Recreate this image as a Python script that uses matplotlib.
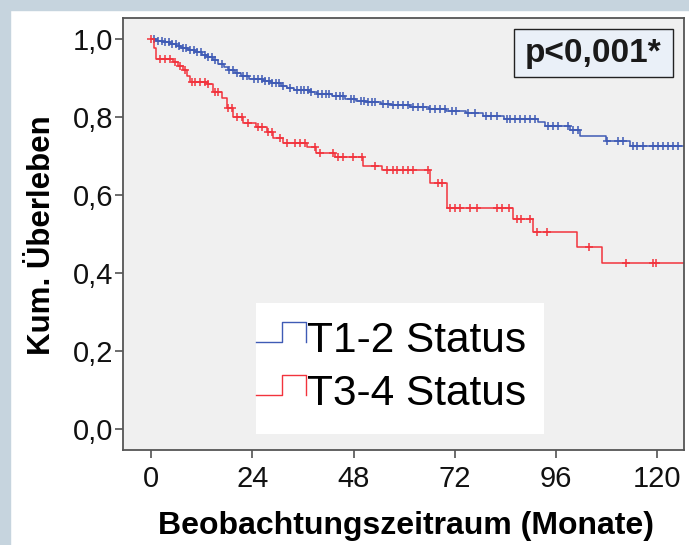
import numpy as np
import matplotlib
matplotlib.use('Agg')
import matplotlib.pyplot as plt
from matplotlib.patches import Rectangle

plt.rcParams['font.family'] = ['Liberation Sans', 'DejaVu Sans']

# Kaplan-Meier steps (time in months, cumulative survival)
t12_time = [0, 1.2, 2.8, 4.4, 6.0, 7.2, 8.8, 10.4, 12.0, 13.2, 14.8, 16.0, 17.4, 18.2,
            19.9, 21.3, 23.2, 26.6, 28.5, 30.8, 32.2, 34.0, 37.6, 39.3, 42.8, 46.0,
            48.5, 51.0, 54.5, 57.0, 61.5, 66.0, 70.0, 74.6, 78.8, 83.7, 91.8, 93.3,
            99.3, 101.7, 107.8, 113.5, 127]
t12_surv = [1.0, 0.996, 0.992, 0.988, 0.983, 0.978, 0.972, 0.967, 0.961, 0.954, 0.946,
            0.937, 0.929, 0.921, 0.913, 0.905, 0.899, 0.893, 0.887, 0.881, 0.875, 0.869,
            0.864, 0.859, 0.854, 0.848, 0.843, 0.839, 0.835, 0.831, 0.827, 0.821, 0.815,
            0.810, 0.804, 0.796, 0.787, 0.777, 0.767, 0.752, 0.739, 0.726, 0.726]
t12_cens = [0.8, 1.6, 2.5, 3.3, 4.2, 5.0, 5.9, 6.7, 7.6, 8.4, 9.3, 10.1, 11.0, 11.8, 12.7,
            13.5, 14.4, 15.2, 16.9, 18.6, 19.4, 20.3, 21.9, 22.8, 24.5, 25.3, 26.2, 27.0,
            27.9, 28.7, 29.6, 30.4, 31.3, 32.9, 34.6, 35.5, 36.3, 37.2, 38.0, 39.7, 40.5,
            41.4, 42.2, 43.9, 44.7, 45.6, 47.3, 48.1, 49.8, 50.6, 51.5, 52.3, 53.2, 55.0,
            56.2, 57.4, 58.6, 59.8, 61.0, 62.2, 63.3, 64.5, 66.1, 67.3, 68.5, 69.7, 71.3,
            72.4, 75.2, 76.8, 79.5, 80.7, 81.9, 84.3, 85.1, 86.3, 87.4, 88.6, 89.8, 91.0,
            94.1, 95.3, 96.5, 98.9, 100.1, 101.3, 108.0, 110.7, 111.9, 114.3, 115.1,
            116.7, 119.0, 120.2, 121.4, 122.6, 123.8, 125.0]

t34_time = [0, 0.6, 1.3, 5.2, 6.4, 7.7, 8.5, 9.2, 13.2, 14.8, 16.8, 17.9, 19.5, 21.9,
            25.0, 27.4, 29.0, 31.4, 36.9, 39.0, 43.5, 50.3, 54.8, 66.1, 70.1, 85.8, 90.6,
            100.9, 106.8, 127]
t34_surv = [1.0, 0.977, 0.950, 0.943, 0.932, 0.921, 0.906, 0.891, 0.885, 0.866, 0.849,
            0.823, 0.802, 0.785, 0.776, 0.763, 0.746, 0.733, 0.725, 0.708, 0.699, 0.675,
            0.665, 0.631, 0.567, 0.538, 0.507, 0.468, 0.426, 0.426]
t34_cens = [0.0, 2.1, 3.3, 4.5, 5.7, 6.9, 8.1, 9.8, 10.4, 11.6, 12.8, 13.6, 15.2, 15.9,
            18.3, 19.1, 20.3, 21.5, 23.1, 25.3, 26.2, 27.7, 28.6, 30.6, 32.2, 34.1, 35.3,
            36.5, 38.9, 40.0, 43.2, 44.4, 45.6, 47.9, 49.9, 53.1, 55.9, 57.4, 58.2, 59.8,
            61.0, 62.2, 65.7, 68.1, 68.9, 70.9, 72.0, 73.2, 75.6, 77.2, 81.9, 83.1, 84.9,
            86.7, 87.8, 89.8, 91.4, 93.8, 103.9, 112.7, 118.9, 119.7]

x_ticks = [0, 24, 48, 72, 96, 120]
y_ticks = [0.0, 0.2, 0.4, 0.6, 0.8, 1.0]
y_ticklabels = ['0,0', '0,2', '0,4', '0,6', '0,8', '1,0']
groups = ['T1-2 Status', 'T3-4 Status']
colors = ['#3f5bb5', '#f2333d']
p_text = 'p<0,001*'


def step_at(times, surv, c):
    i = np.searchsorted(times, c, side='right') - 1
    return np.asarray(surv)[i]


fig = plt.figure(figsize=(6.89, 5.45), dpi=100, facecolor='white')
fig.patches.append(Rectangle((0, 1 - 10 / 545), 1, 10 / 545, transform=fig.transFigure,
                             color='#c6d4de', zorder=0))
fig.patches.append(Rectangle((0, 0), 10 / 689, 1, transform=fig.transFigure,
                             color='#c6d4de', zorder=0))

ax = fig.add_axes([123.3 / 689, 1 - 450 / 545, 561 / 689, 432 / 545])
ax.set_facecolor('#f0f0f0')

data = [(t12_time, t12_surv, t12_cens), (t34_time, t34_surv, t34_cens)]
for (tt, ss, cc), col in zip(data, colors):
    ax.step(tt, ss, where='post', color=col, lw=1.1)
    cy = [step_at(tt, ss, c) for c in cc]
    ax.plot(cc, cy, ls='none', marker='+', ms=6.2, mew=1.1, color=col)

ax.set_xlim(-6.56, 126.4)
ax.set_ylim(-0.053, 1.0546)
ax.set_xticks(x_ticks)
ax.set_xticklabels([str(v) for v in x_ticks])
ax.set_yticks(y_ticks)
ax.set_yticklabels(y_ticklabels)
ax.tick_params(axis='both', length=5.8, width=1.1, color='#444444', labelsize=21,
               labelcolor='#111111')
ax.tick_params(axis='y', pad=1.5)
ax.tick_params(axis='x', pad=5)
for sp in ax.spines.values():
    sp.set_color('#555555')
    sp.set_linewidth(1.3)

# p value box
ax.add_patch(Rectangle((0.696, 0.863), 0.284, 0.112, transform=ax.transAxes,
                       facecolor='#eaf0f8', edgecolor='#222222', lw=1.0, zorder=5))
ax.text(0.838, 0.917, p_text, transform=ax.transAxes, ha='center', va='center',
        fontsize=24, fontweight='bold', color='#1a1a1a', zorder=6)

# legend box with step handles
ax.add_patch(Rectangle((0.2365, 0.037), 0.5135, 0.303, transform=ax.transAxes,
                       facecolor='white', edgecolor='none', zorder=5))
leg_y = [(0.250, 0.296, 0.2275), (0.127, 0.174, 0.104)]
for (lo, hi, base), col, lab in zip(leg_y, colors, groups):
    ax.plot([0.2365, 0.282, 0.282, 0.325, 0.325], [lo, lo, hi, hi, lo],
            transform=ax.transAxes, color=col, lw=1.0, zorder=6)
    ax.text(0.3275, base, lab, transform=ax.transAxes, ha='left', va='baseline',
            fontsize=30.5, color='black', zorder=6)

fig.text(42 / 689, 1 - 235 / 545, 'Kum. Überleben', rotation=90, ha='center',
         va='center', fontsize=22.5, fontweight='bold')
fig.text(406 / 689, 1 - 526 / 545, 'Beobachtungszeitraum (Monate)', ha='center',
         va='center', fontsize=23, fontweight='bold')

fig.savefig('out.png', dpi=100)
